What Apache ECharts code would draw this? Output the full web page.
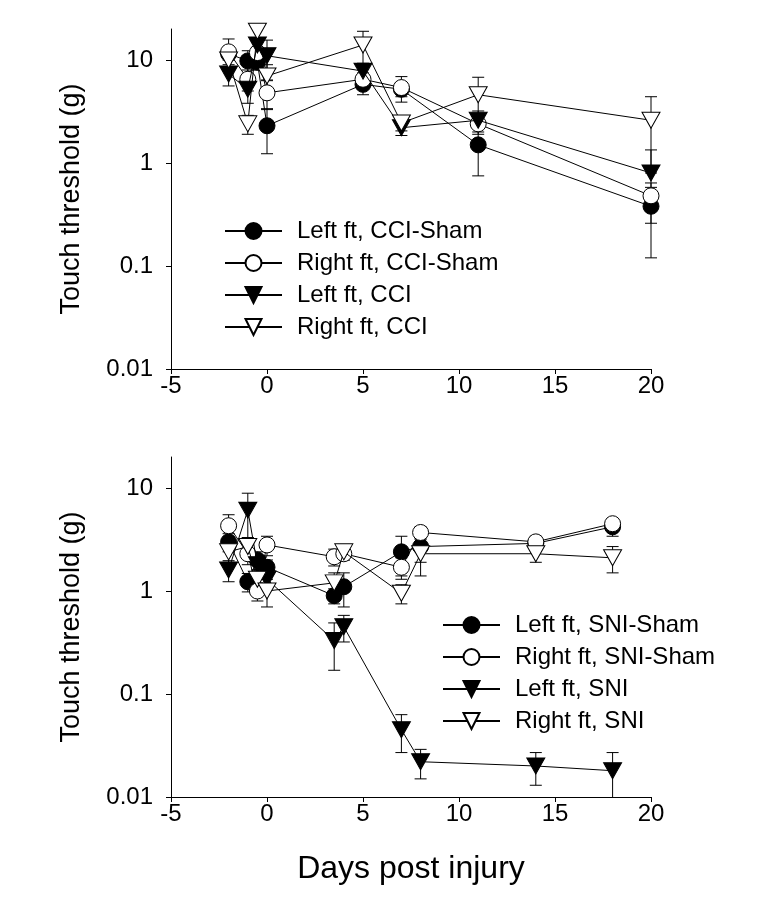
<!DOCTYPE html>
<html>
<head>
<meta charset="utf-8">
<script src="https://cdn.jsdelivr.net/npm/echarts@6/dist/echarts.min.js"></script>
<style>
html,body{margin:0;padding:0;background:#fff;}
#c{width:760px;height:924px;}
</style>
</head>
<body>
<div id="c"></div>
<script>
// ---- Data (top panel: CCI) ----
const cciDays = [-2, -1, -0.5, 0, 5, 7, 11, 20];
const cciLeftSham     = [11.5, 9.8, 9.5, 2.3, 5.8, 5.2, 1.5, 0.38];
const cciLeftShamErr  = [1.5, 2.5, 1.5, 1.07, 1.2, 0.8, 0.75, 0.26];
const cciRightSham    = [12, 6.5, 11.8, 4.8, 6.5, 5.4, 2.4, 0.48];
const cciRightShamErr = [4, 1.5, 1.5, 1.5, 1.0, 1.5, 0.5, 0.1];
const cciLeft         = [7.3, 5.2, 14, 11, 7.8, 2.2, 2.6, 0.8];
const cciLeftErr      = [1.7, 1.4, 2, 4.6, 1.5, 0.35, 0.6, 0.54];
const cciRight        = [10, 2.4, 19, 7, 14, 2.45, 4.6, 2.6];
const cciRightErr     = [2, 0.5, 3, 2, 5, 0.4, 2.2, 1.8];

// ---- Data (bottom panel: SNI) ----
const sniDays = [-2, -1, -0.5, 0, 3.5, 4, 7, 8, 14, 18];
const sniLeftSham     = [3.0, 1.23, 2.0, 1.7, 0.9, 1.1, 2.4, 2.7, 2.9, 4.2];
const sniLeftShamErr  = [0.6, 0.25, 0.4, 0.3, 0.15, 0.4, 1.0, 0.8, 0.4, 0.8];
const sniRightSham    = [4.3, 2.3, 1.0, 2.8, 2.15, 2.3, 1.7, 3.7, 3.0, 4.5];
const sniRightShamErr = [1.2, 0.5, 0.2, 0.6, 0.4, 0.3, 0.4, 0.5, 0.4, 0.4];
const sniLeft         = [1.6, 6.1, 1.8, 1.3, 0.33, 0.45, 0.045, 0.022, 0.02, 0.018];
const sniLeftErr      = [0.37, 2.8, 0.4, 0.2, 0.16, 0.13, 0.018, 0.007, 0.007, 0.009];
const sniRight        = [2.4, 2.7, 1.3, 1.0, 1.2, 2.4, 0.95, 2.3, 2.3, 2.1];
const sniRightErr     = [0.5, 0.6, 0.3, 0.3, 0.3, 0.4, 0.2, 0.9, 0.4, 0.6];

const xTicks = [-5, 0, 5, 10, 15, 20];
const yTicks = [0.01, 0.1, 1, 10];

const cciNames = ['Left ft, CCI-Sham', 'Right ft, CCI-Sham', 'Left ft, CCI', 'Right ft, CCI'];
const sniNames = ['Left ft, SNI-Sham', 'Right ft, SNI-Sham', 'Left ft, SNI', 'Right ft, SNI'];
const yTitle = 'Touch threshold (g)';
const xTitle = 'Days post injury';

// ---- Chart ----
const FONT = 'Liberation Sans, Arial, sans-serif';
const chart = echarts.init(document.getElementById('c'), null, {renderer: 'canvas'});

const markers = [
  {symbol: 'circle', size: 16, rot: 0, fill: '#000'},
  {symbol: 'circle', size: 16, rot: 0, fill: '#fff'},
  {symbol: 'triangle', size: [18, 16], rot: 180, fill: '#000'},
  {symbol: 'triangle', size: [18, 16], rot: 180, fill: '#fff'}
];

function pairs(xs, ys) { return xs.map((x, i) => [x, ys[i]]); }
function triples(xs, ys, es) { return xs.map((x, i) => [x, ys[i], es[i]]); }

function errRender(params, api) {
  const x = api.value(0), y = api.value(1), e = api.value(2);
  const cs = params.coordSys;
  const hi = api.coord([x, y + e]);
  const loVal = y - e;
  const yBottom = cs.y + cs.height;
  const lo = loVal > 0 ? api.coord([x, loVal]) : [hi[0], yBottom];
  const w = 6;
  const st = {stroke: '#000', lineWidth: 1};
  const children = [];
  const top = Math.max(hi[1], cs.y);
  const bot = Math.min(lo[1], yBottom);
  children.push({type: 'line', shape: {x1: hi[0], y1: top, x2: hi[0], y2: bot}, style: st});
  if (hi[1] >= cs.y) children.push({type: 'line', shape: {x1: hi[0] - w, y1: hi[1], x2: hi[0] + w, y2: hi[1]}, style: st});
  if (loVal > 0 && lo[1] <= yBottom) children.push({type: 'line', shape: {x1: lo[0] - w, y1: lo[1], x2: lo[0] + w, y2: lo[1]}, style: st});
  return {type: 'group', children: children};
}

function lineSeries(name, idx, grid, data) {
  const m = markers[idx];
  return {
    type: 'line', name: name, xAxisIndex: grid, yAxisIndex: grid,
    data: data, symbol: m.symbol, symbolSize: m.size, symbolRotate: m.rot,
    showAllSymbol: true,
    lineStyle: {color: '#000', width: 1},
    itemStyle: {color: m.fill, borderColor: '#000', borderWidth: 1, opacity: 1},
    emphasis: {disabled: true}, z: 3 + idx, animation: false
  };
}
function errSeries(grid, data) {
  return {
    type: 'custom', xAxisIndex: grid, yAxisIndex: grid, data: data,
    renderItem: errRender, z: 2, silent: true, animation: false,
    encode: {x: 0, y: [1, 2]}, clip: false
  };
}

function xAxis(grid, withName) {
  return {
    type: 'value', gridIndex: grid, min: -5, max: 20, interval: 5,
    axisLine: {show: true, onZero: false, lineStyle: {color: '#000', width: 1}},
    axisTick: {show: true, inside: false, length: 5, lineStyle: {color: '#000'}, customValues: xTicks},
    axisLabel: {color: '#000', fontSize: 24, fontFamily: FONT, margin: 5, customValues: xTicks},
    splitLine: {show: false},
    name: withName ? xTitle : '', nameLocation: 'middle', nameGap: 56,
    nameTextStyle: {color: '#000', fontSize: 32, fontFamily: FONT}
  };
}
function yAxis(grid) {
  return {
    type: 'log', logBase: 10, gridIndex: grid, min: 0.01, max: 20,
    axisLine: {show: true, onZero: false, lineStyle: {color: '#000', width: 1}},
    axisTick: {show: true, inside: false, length: 5, lineStyle: {color: '#000'}, customValues: yTicks},
    axisLabel: {color: '#000', fontSize: 24, fontFamily: FONT, margin: 18, customValues: yTicks,
      formatter: v => String(v)},
    minorTick: {show: false}, splitLine: {show: false},
    name: yTitle, nameLocation: 'middle', nameGap: 86, nameRotate: 90,
    nameTextStyle: {color: '#000', fontSize: 27, fontFamily: FONT}
  };
}

function legend(names, left, top) {
  return {
    data: names, orient: 'vertical', left: left, top: top,
    itemWidth: 57, itemHeight: 20, itemGap: 8,
    selectedMode: false,
    textStyle: {color: '#000', fontSize: 24, fontFamily: FONT, lineHeight: 24, padding: [0, 0, 0, 10]},
    inactiveColor: '#000'
  };
}

const option = {
  backgroundColor: '#fff',
  animation: false,
  grid: [
    {left: 171, top: 29, width: 480, height: 340, containLabel: false},
    {left: 171, top: 457, width: 480, height: 340, containLabel: false}
  ],
  xAxis: [xAxis(0, false), xAxis(1, true)],
  yAxis: [yAxis(0), yAxis(1)],
  legend: [legend(cciNames, 219, 214), legend(sniNames, 437, 608)],
  series: [
    errSeries(0, triples(cciDays, cciLeftSham, cciLeftShamErr)),
    errSeries(0, triples(cciDays, cciRightSham, cciRightShamErr)),
    errSeries(0, triples(cciDays, cciLeft, cciLeftErr)),
    errSeries(0, triples(cciDays, cciRight, cciRightErr)),
    lineSeries(cciNames[0], 0, 0, pairs(cciDays, cciLeftSham)),
    lineSeries(cciNames[1], 1, 0, pairs(cciDays, cciRightSham)),
    lineSeries(cciNames[2], 2, 0, pairs(cciDays, cciLeft)),
    lineSeries(cciNames[3], 3, 0, pairs(cciDays, cciRight)),
    errSeries(1, triples(sniDays, sniLeftSham, sniLeftShamErr)),
    errSeries(1, triples(sniDays, sniRightSham, sniRightShamErr)),
    errSeries(1, triples(sniDays, sniLeft, sniLeftErr)),
    errSeries(1, triples(sniDays, sniRight, sniRightErr)),
    lineSeries(sniNames[0], 0, 1, pairs(sniDays, sniLeftSham)),
    lineSeries(sniNames[1], 1, 1, pairs(sniDays, sniRightSham)),
    lineSeries(sniNames[2], 2, 1, pairs(sniDays, sniLeft)),
    lineSeries(sniNames[3], 3, 1, pairs(sniDays, sniRight))
  ]
};
chart.setOption(option);
</script>
</body>
</html>
